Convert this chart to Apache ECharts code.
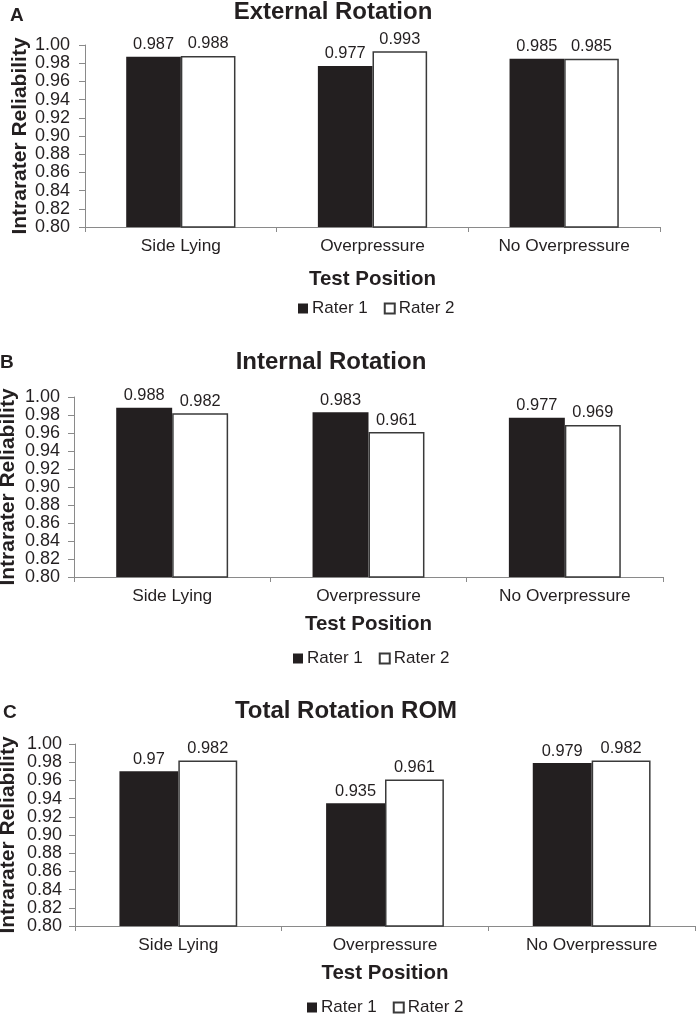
<!DOCTYPE html>
<html>
<head>
<meta charset="utf-8">
<script src="https://cdn.jsdelivr.net/npm/echarts@6/dist/echarts.min.js"></script>
<style>
html,body{margin:0;padding:0;background:#fff;}
#c{width:697px;height:1015px;}
</style>
</head>
<body>
<div id="c"></div>
<script>
var categories = ['Side Lying', 'Overpressure', 'No Overpressure'];
var panelTitles = ['External Rotation', 'Internal Rotation', 'Total Rotation ROM'];
var panelLetters = ['A', 'B', 'C'];
var seriesNames = ['Rater 1', 'Rater 2'];
var extRater1 = [0.987, 0.977, 0.985];
var extRater2 = [0.988, 0.993, 0.985];
var intRater1 = [0.988, 0.983, 0.977];
var intRater2 = [0.982, 0.961, 0.969];
var totRater1 = [0.97, 0.935, 0.979];
var totRater2 = [0.982, 0.961, 0.982];
var yMin = 0.80, yMax = 1.00, yStep = 0.02;
var xName = 'Test Position';
var yName = 'Intrarater Reliability';

var panelData = [[extRater1, extRater2], [intRater1, intRater2], [totRater1, totRater2]];

var FONT = '"Liberation Sans", Arial, sans-serif';
var DARK = '#231f20';
var AXIS = '#8a8a8a';

var grids = [
  {left: 85, top: 45, width: 575, height: 182},
  {left: 74, top: 397, width: 589, height: 180},
  {left: 75, top: 744, width: 620, height: 182}
];
var titlePos = [
  {cx: 333, y: 0},
  {cx: 331, y: 350},
  {cx: 346, y: 699}
];
var letterPos = [{x: 10, y: 6}, {x: 0, y: 353}, {x: 3, y: 703}];
var yNameGap = [54, 55, 56];
var yLabelMargin = [15, 14, 13];
var xNameGap = [42, 37, 37];
var legendLeft = [298, 293, 307];
var legendTop = [300, 650, 999];

var option = {
  backgroundColor: '#fff',
  animation: false,
  textStyle: {fontFamily: FONT},
  title: [],
  legend: [],
  grid: [],
  xAxis: [],
  yAxis: [],
  series: []
};

for (var i = 0; i < 3; i++) {
  var g = grids[i];
  option.grid.push({left: g.left, top: g.top, width: g.width, height: g.height,
    containLabel: false, outerBoundsMode: 'none'});
  option.title.push({
    text: panelTitles[i], padding: 0,
    left: titlePos[i].cx, top: titlePos[i].y, textAlign: 'center',
    textStyle: {fontFamily: FONT, fontSize: 24, fontWeight: 'bold', color: DARK}
  });
  option.title.push({
    text: panelLetters[i], padding: 0,
    left: letterPos[i].x, top: letterPos[i].y,
    textStyle: {fontFamily: FONT, fontSize: 19, fontWeight: 'bold', color: DARK}
  });
  option.legend.push({
    data: seriesNames, padding: 0,
    left: legendLeft[i], top: legendTop[i],
    itemWidth: 10, itemHeight: 10, itemGap: 16,
    icon: 'rect', selectedMode: false,
    textStyle: {fontFamily: FONT, fontSize: 17, color: DARK, padding: [0, 0, 0, -1]}
  });
  option.xAxis.push({
    type: 'category', gridIndex: i, data: categories,
    name: xName, nameLocation: 'middle', nameGap: xNameGap[i], nameMoveOverlap: false,
    nameTextStyle: {fontFamily: FONT, fontSize: 20.5, fontWeight: 'bold', color: DARK},
    axisLine: {show: true, lineStyle: {color: AXIS, width: 1}},
    axisTick: {show: true, length: 5, alignWithLabel: false, lineStyle: {color: AXIS}},
    axisLabel: {fontFamily: FONT, fontSize: 17.3, color: DARK, margin: 11},
    splitLine: {show: false}
  });
  option.yAxis.push({
    type: 'value', gridIndex: i, min: yMin, max: yMax, interval: yStep,
    name: yName, nameLocation: 'middle', nameGap: yNameGap[i], nameRotate: 90,
    nameMoveOverlap: false,
    nameTextStyle: {fontFamily: FONT, fontSize: 21, fontWeight: 'bold', color: DARK},
    axisLine: {show: true, lineStyle: {color: AXIS, width: 1}},
    axisTick: {show: true, length: 6, lineStyle: {color: AXIS}},
    axisLabel: {fontFamily: FONT, fontSize: 18, color: DARK, margin: yLabelMargin[i],
      formatter: function (v) { return v.toFixed(2); }},
    splitLine: {show: false}
  });
  for (var s = 0; s < 2; s++) {
    option.series.push({
      name: seriesNames[s], type: 'bar',
      xAxisIndex: i, yAxisIndex: i,
      data: panelData[i][s],
      barWidth: '28.5%', barGap: '0%',
      itemStyle: s === 0 ? {color: DARK, borderColor: DARK, borderWidth: 0}
                          : {color: '#ffffff', borderColor: '#3a3a3a', borderWidth: 1.5},
      label: {show: true, position: 'top', distance: 4,
        fontFamily: FONT, fontSize: 16.4, color: DARK},
      emphasis: {disabled: true}
    });
  }
}

var chart = echarts.init(document.getElementById('c'), null, {renderer: 'canvas'});
chart.setOption(option);
</script>
</body>
</html>
